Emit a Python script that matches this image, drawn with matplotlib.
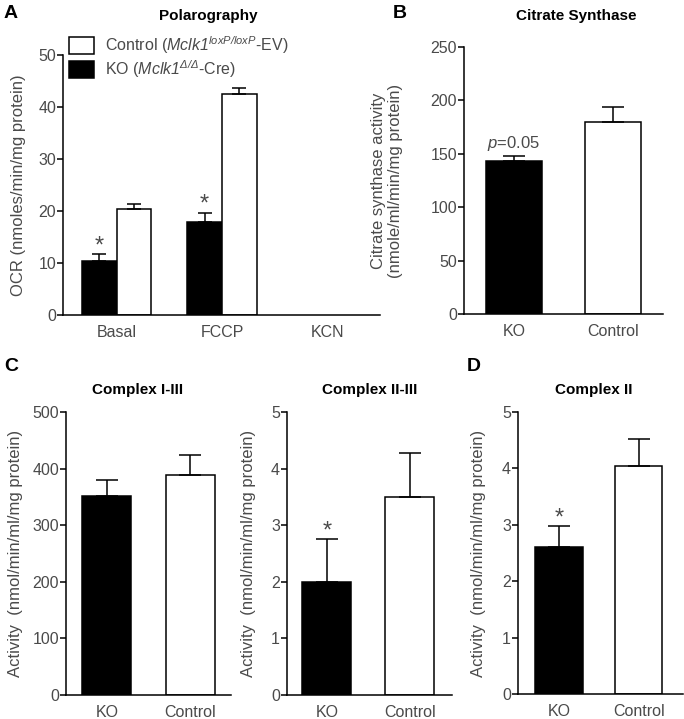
import numpy as np
import matplotlib
matplotlib.use("Agg")
import matplotlib.pyplot as plt
from matplotlib.patches import Rectangle

plt.rcParams['font.family'] = ['Liberation Sans', 'DejaVu Sans']
plt.rcParams['mathtext.fontset'] = 'custom'
plt.rcParams['mathtext.rm'] = 'Liberation Sans'
plt.rcParams['mathtext.it'] = 'Liberation Sans:italic'
plt.rcParams['mathtext.sf'] = 'Liberation Sans:italic'  # italic incl. digits
plt.rcParams['mathtext.bf'] = 'Liberation Sans:bold'

# ---------------- data ----------------
# A: polarography
ocr_groups = ['Basal', 'FCCP', 'KCN']
ocr_ko = [10.4, 17.8, 0]
ocr_ko_err = [1.3, 1.9, 0]
ocr_ctrl = [20.3, 42.5, 0]
ocr_ctrl_err = [1.0, 1.2, 0]

# B: citrate synthase
cs_labels = ['KO', 'Control']
cs_vals = [143, 180]
cs_err = [5, 14]

# C: complex I-III and II-III
c13_vals = [352, 389]
c13_err = [28, 35]
c23_vals = [2.0, 3.5]
c23_err = [0.75, 0.78]

# D: complex II
c2_vals = [2.6, 4.05]
c2_err = [0.37, 0.47]

W, H = 684, 719
TXT = '#4a4a4a'
FS = 11.5
LFS = 12

fig = plt.figure(figsize=(W / 100, H / 100), dpi=100)


def px_axes(left, right, top, bottom):
    return fig.add_axes([left / W, 1 - bottom / H, (right - left) / W, (bottom - top) / H])


def style(ax, ymax, step):
    for s in ['top', 'right']:
        ax.spines[s].set_visible(False)
    for s in ['left', 'bottom']:
        ax.spines[s].set_linewidth(1.1)
    ax.set_ylim(0, ymax)
    ax.set_yticks(np.arange(0, ymax + step / 2, step))
    ax.tick_params(axis='y', length=4, width=1.1, labelsize=FS, labelcolor=TXT, pad=1)
    ax.tick_params(axis='x', length=0, labelsize=FS, labelcolor=TXT, pad=7)


def two_bars(ax, vals, errs, width, cap):
    x = np.arange(len(vals))
    ax.bar(x, vals, width, color=['black', 'white'], edgecolor='black', linewidth=1.1,
           yerr=[[0, 0], errs], error_kw=dict(ecolor='black', elinewidth=1.1, capsize=cap, capthick=1.1),
           zorder=2)
    ax.set_xticks(x)
    ax.set_xticklabels(cs_labels)
    return x


def ylab(ax, text, px, left, right):
    ax.set_ylabel(text, fontsize=LFS, color=TXT)
    ax.yaxis.set_label_coords((px - left) / (right - left), 0.5)


# ---------------- A ----------------
axA = px_axes(63, 380, 55, 315)
style(axA, 50, 10)
xa = np.arange(len(ocr_groups))
wa = 0.33
keep = [i for i in range(len(ocr_groups)) if ocr_ko[i] > 0]
axA.bar(xa[keep] - wa / 2, [ocr_ko[i] for i in keep], wa, color='black', edgecolor='black', linewidth=1.1,
        yerr=[[0] * len(keep), [ocr_ko_err[i] for i in keep]],
        error_kw=dict(elinewidth=1.1, capsize=5, capthick=1.1))
axA.bar(xa[keep] + wa / 2, [ocr_ctrl[i] for i in keep], wa, color='white', edgecolor='black', linewidth=1.1,
        yerr=[[0] * len(keep), [ocr_ctrl_err[i] for i in keep]],
        error_kw=dict(elinewidth=1.1, capsize=5, capthick=1.1))
axA.set_xlim(-0.51, 2.5)
axA.set_xticks(xa)
axA.set_xticklabels(ocr_groups)
ylab(axA, 'OCR (nmoles/min/mg protein)', 26, 63, 380)
for i in keep:
    axA.text(xa[i] - wa / 2, ocr_ko[i] + ocr_ko_err[i] - 0.6, '*', ha='center', va='bottom',
             fontsize=17, color=TXT)
handles = [Rectangle((0, 0), 1, 1, fc='white', ec='black', lw=1.1),
           Rectangle((0, 0), 1, 1, fc='black', ec='black', lw=1.1)]
labels = [r'Control ($\mathsf{Mclk1}^{\mathsf{loxP/loxP}}$-EV)',
          r'KO ($\mathsf{Mclk1}^{\mathsf{\Delta/\Delta}}$-Cre)']
leg = axA.legend(handles, labels, loc='upper left', bbox_to_anchor=(69 / W, 1 - 34 / H),
                 bbox_transform=fig.transFigure, frameon=False, fontsize=11.5,
                 handlelength=1.55, handleheight=1.3, handletextpad=0.7, labelspacing=0.15,
                 borderpad=0, borderaxespad=0)
for t in leg.get_texts():
    t.set_color(TXT)

# ---------------- B ----------------
axB = px_axes(464, 663, 47, 314)
style(axB, 250, 50)
xb = two_bars(axB, cs_vals, cs_err, 0.56, 8)
axB.set_xlim(-0.5, 1.5)
ylab(axB, 'Citrate synthase activity\n(nmole/ml/min/mg protein)', 403, 464, 663)
axB.text(xb[0], cs_vals[0] + cs_err[0] + 3, r'$\mathit{p}$=0.05', ha='center', va='bottom',
         fontsize=12, color=TXT)

# ---------------- C ----------------
axC1 = px_axes(66, 231, 412, 695)
style(axC1, 500, 100)
two_bars(axC1, c13_vals, c13_err, 0.59, 8)
axC1.set_xlim(-0.49, 1.49)
ylab(axC1, 'Activity  (nmol/min/ml/mg protein)', 23, 66, 231)

axC2 = px_axes(287, 452, 412, 695)
style(axC2, 5, 1)
xc2 = two_bars(axC2, c23_vals, c23_err, 0.59, 8)
axC2.set_xlim(-0.48, 1.51)
ylab(axC2, 'Activity  (nmol/min/ml/mg protein)', 256, 287, 452)
axC2.text(xc2[0], c23_vals[0] + c23_err[0] - 0.06, '*', ha='center', va='bottom',
          fontsize=17, color=TXT)

# ---------------- D ----------------
axD = px_axes(518, 683, 412, 694)
style(axD, 5, 1)
xd = two_bars(axD, c2_vals, c2_err, 0.6, 8)
axD.set_xlim(-0.52, 1.56)
ylab(axD, 'Activity  (nmol/min/ml/mg protein)', 486, 518, 683)
axD.text(xd[0], c2_vals[0] + c2_err[0] - 0.06, '*', ha='center', va='bottom',
         fontsize=17, color=TXT)

# ---------------- titles and panel letters ----------------
def ftext(px, py, s, **kw):
    fig.text(px / W, 1 - py / H, s, **kw)


ftext(208, 16, 'Polarography', ha='center', va='center', fontsize=11, fontweight='bold')
ftext(576, 16, 'Citrate Synthase', ha='center', va='center', fontsize=11, fontweight='bold')
ftext(138, 390, 'Complex I-III', ha='center', va='center', fontsize=11, fontweight='bold')
ftext(370, 390, 'Complex II-III', ha='center', va='center', fontsize=11, fontweight='bold')
ftext(594, 390, 'Complex II', ha='center', va='center', fontsize=11, fontweight='bold')

ftext(4, 13, 'A', ha='left', va='center', fontsize=14, fontweight='bold')
ftext(393, 13, 'B', ha='left', va='center', fontsize=14, fontweight='bold')
ftext(4, 366, 'C', ha='left', va='center', fontsize=14, fontweight='bold')
ftext(467, 366, 'D', ha='left', va='center', fontsize=14, fontweight='bold')

fig.savefig('out.png', dpi=100)
